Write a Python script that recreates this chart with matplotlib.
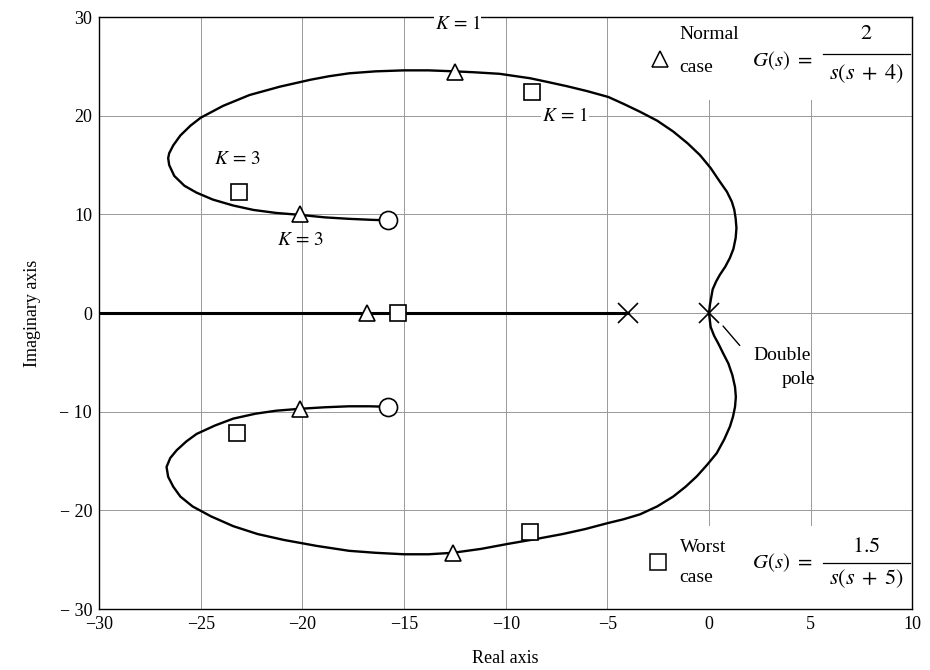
import matplotlib
matplotlib.use("Agg")
import matplotlib.pyplot as plt
from matplotlib.patches import Rectangle

plt.rcParams['font.family'] = ['Liberation Serif', 'DejaVu Serif']
plt.rcParams['mathtext.fontset'] = 'stix'

# Upper branch of the root locus (from the double pole at the origin to the zero)
upper_re = [0, 0.05, 0.18, 0.35, 0.54, 0.8, 1.03, 1.2, 1.31, 1.35, 1.31, 1.24, 1.12,
            0.88, 0.54, 0.08, -0.44, -1.05, -1.76, -2.55, -3.39, -4.2, -4.95, -6.0,
            -7.0, -8.0, -8.8, -10.3, -11.5, -12.5, -13.8, -15.0, -16.4, -17.7, -18.7,
            -19.6, -21.1, -22.6, -23.9, -25.0, -25.5, -26.0, -26.35, -26.55, -26.6,
            -26.55, -26.3, -25.8, -25.2, -24.4, -23.4, -22.4, -21.3, -20.1, -18.9,
            -17.7, -16.6, -15.8]
upper_im = [0, 0.9, 2.4, 3.2, 3.9, 4.7, 5.6, 6.5, 7.6, 8.6, 9.6, 10.5, 11.3,
            12.3, 13.3, 14.7, 16.0, 17.2, 18.4, 19.5, 20.4, 21.2, 21.9, 22.5,
            23.0, 23.45, 23.8, 24.25, 24.4, 24.5, 24.6, 24.6, 24.5, 24.3, 24.0,
            23.65, 22.95, 22.1, 21.0, 19.8, 19.0, 18.0, 17.0, 16.2, 15.7,
            15.0, 13.9, 12.9, 12.2, 11.5, 10.9, 10.45, 10.15, 9.95, 9.7,
            9.55, 9.45, 9.4]

# Lower branch
lower_re = [0, 0.08, 0.25, 0.46, 0.7, 0.95, 1.15, 1.28, 1.32, 1.28, 1.18, 1.03,
            0.75, 0.38, -0.1, -0.6, -1.15, -1.76, -2.55, -3.39, -4.2, -5.0, -6.1,
            -7.2, -8.5, -9.9, -11.2, -12.6, -13.8, -15.0, -16.4, -17.7, -19.3, -20.9,
            -22.2, -23.4, -24.5, -25.4, -26.0, -26.35, -26.6, -26.68, -26.5, -26.18,
            -25.7, -25.2, -24.3, -23.4, -22.3, -21.3, -20.1, -18.9, -17.7, -16.7, -15.8]
lower_im = [0, -1.4, -2.3, -3.1, -4.1, -5.1, -6.3, -7.5, -8.5, -9.5, -10.5, -11.5,
            -12.8, -14.2, -15.4, -16.55, -17.6, -18.6, -19.6, -20.4, -20.9, -21.3, -21.9,
            -22.4, -22.9, -23.4, -23.9, -24.3, -24.45, -24.45, -24.3, -24.1, -23.6, -23.0,
            -22.4, -21.6, -20.6, -19.6, -18.6, -17.6, -16.6, -15.6, -14.7, -13.9,
            -13.0, -12.25, -11.4, -10.7, -10.2, -9.9, -9.7, -9.55, -9.45, -9.45, -9.5]

# Real-axis locus segment
real_seg_re = [-30, -4]
real_seg_im = [0, 0]

# Normal case (triangles) and worst case (squares) closed-loop roots
normal_re = [-12.5, -20.1, -12.6, -20.1, -16.8]
normal_im = [24.45, 10.0, -24.35, -9.7, 0]
worst_re = [-8.7, -23.1, -8.8, -23.2, -15.3]
worst_im = [22.4, 12.3, -22.2, -12.15, 0]

# Open-loop poles and zeros
pole_re = [-4, 0]
pole_im = [0, 0]
zero_re = [-15.8, -15.8]
zero_im = [9.4, -9.55]

xticks = [-30, -25, -20, -15, -10, -5, 0, 5, 10]
yticks = [-30, -20, -10, 0, 10, 20, 30]

fig = plt.figure(figsize=(9.3, 6.7), dpi=100)
ax = fig.add_axes([0.1065, 0.091, 0.8745, 0.8835])

ax.set_xlim(-30, 10)
ax.set_ylim(-30, 30)
ax.set_xticks(xticks)
ax.set_yticks(yticks)
ax.set_xticklabels([str(v).replace('-', '\u2212') for v in xticks])
ax.set_yticklabels([str(v).replace('-', '\u2212 ') if v < 0 else str(v) for v in yticks])
ax.tick_params(length=0, labelsize=13, pad=5)
ax.set_axisbelow(True)
ax.grid(True, color='#999999', linewidth=0.7)
for s in ax.spines.values():
    s.set_linewidth(1.0)

# white areas behind the legends
ax.add_patch(Rectangle((0.67, 0.86), 0.33, 0.14, transform=ax.transAxes,
                       facecolor='white', edgecolor='none', zorder=1))
ax.add_patch(Rectangle((0.67, 0.0), 0.33, 0.14, transform=ax.transAxes,
                       facecolor='white', edgecolor='none', zorder=1))

ax.plot(upper_re, upper_im, color='black', lw=1.7, zorder=3,
        solid_capstyle='round', solid_joinstyle='round')
ax.plot(lower_re, lower_im, color='black', lw=1.7, zorder=3,
        solid_capstyle='round', solid_joinstyle='round')
ax.plot(real_seg_re, real_seg_im, color='black', lw=2.2, zorder=3)

ax.plot(normal_re, normal_im, linestyle='none', marker='^', markersize=11,
        markerfacecolor='white', markeredgecolor='black', markeredgewidth=1.2, zorder=5)
ax.plot(worst_re, worst_im, linestyle='none', marker='s', markersize=12,
        markerfacecolor='white', markeredgecolor='black', markeredgewidth=1.2, zorder=5)
ax.plot(zero_re, zero_im, linestyle='none', marker='o', markersize=13,
        markerfacecolor='white', markeredgecolor='black', markeredgewidth=1.2, zorder=5)
ax.plot(pole_re, pole_im, linestyle='none', marker='x', markersize=14,
        markeredgecolor='black', markeredgewidth=1.2, zorder=5)

# K labels
kfs = 14
ax.text(-12.35, 29.3, r'$K\,=\,1$', fontsize=kfs, ha='center', va='center', zorder=6,
        bbox=dict(facecolor='white', edgecolor='none', pad=0.3))
ax.text(-7.1, 20.0, r'$K\,=\,1$', fontsize=kfs, ha='center', va='center', zorder=6,
        bbox=dict(facecolor='white', edgecolor='none', pad=0.5))
ax.text(-23.2, 15.6, r'$K\,=\,3$', fontsize=kfs, ha='center', va='center', zorder=6)
ax.text(-20.1, 7.4, r'$K\,=\,3$', fontsize=kfs, ha='center', va='center', zorder=6)

# Legend-like annotations (top: normal case)
ax.plot([-2.4], [25.8], linestyle='none', marker='^', markersize=11,
        markerfacecolor='white', markeredgecolor='black', markeredgewidth=1.1, zorder=5)
ax.text(-1.45, 28.2, 'Normal', fontsize=14, ha='left', va='center', zorder=6)
ax.text(-1.45, 24.9, 'case', fontsize=14, ha='left', va='center', zorder=6)
ax.text(2.1, 25.6, r'$G(s)\ =$', fontsize=15, ha='left', va='center', zorder=6)
ax.text(7.75, 28.2, r'$2$', fontsize=16, ha='center', va='center', zorder=6)
ax.plot([5.6, 9.9], [26.3, 26.3], color='black', lw=0.9, zorder=6)
ax.text(7.75, 24.3, r'$s(s\;+\;4)$', fontsize=16, ha='center', va='center', zorder=6)

# bottom: worst case
ax.plot([-2.5], [-25.2], linestyle='none', marker='s', markersize=12,
        markerfacecolor='white', markeredgecolor='black', markeredgewidth=1.1, zorder=5)
ax.text(-1.45, -23.8, 'Worst', fontsize=14, ha='left', va='center', zorder=6)
ax.text(-1.45, -26.8, 'case', fontsize=14, ha='left', va='center', zorder=6)
ax.text(2.1, -25.3, r'$G(s)\ =$', fontsize=15, ha='left', va='center', zorder=6)
ax.text(7.75, -23.8, r'$1.5$', fontsize=16, ha='center', va='center', zorder=6)
ax.plot([5.6, 9.9], [-25.3, -25.3], color='black', lw=0.9, zorder=6)
ax.text(7.75, -26.9, r'$s(s\;+\;5)$', fontsize=16, ha='center', va='center', zorder=6)

# Double pole annotation
ax.annotate('', xy=(0.6, -1.1), xytext=(1.6, -3.5),
            arrowprops=dict(arrowstyle='-', color='black', lw=1.0))
ax.text(3.6, -4.3, 'Double', fontsize=14, ha='center', va='center', zorder=6)
ax.text(4.4, -6.7, 'pole', fontsize=14, ha='center', va='center', zorder=6)

ax.set_xlabel('Real axis', fontsize=13, labelpad=12)
ax.set_ylabel('Imaginary axis', fontsize=13, labelpad=13)

fig.savefig('out.png', dpi=100)
